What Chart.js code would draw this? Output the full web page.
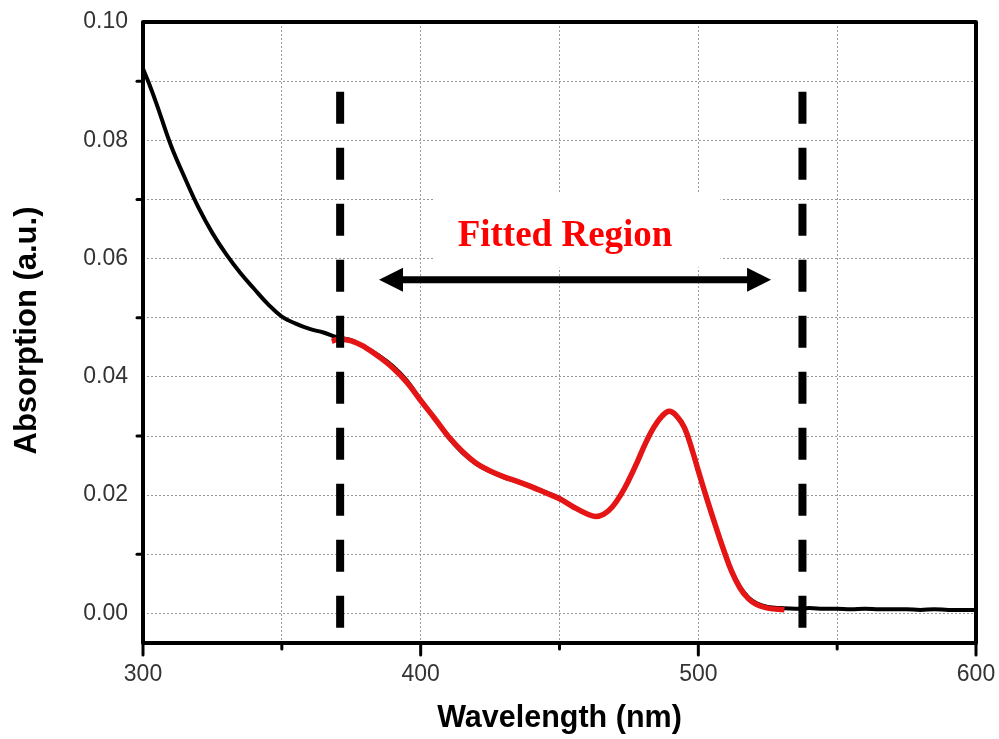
<!DOCTYPE html>
<html>
<head>
<meta charset="utf-8">
<title>Absorption spectrum</title>
<script src="https://cdn.jsdelivr.net/npm/chart.js@4"></script>
<style>
  html, body { margin: 0; padding: 0; background: #fff; }
  canvas { display: block; }
</style>
</head>
<body>
<canvas id="absChart" width="999" height="739"></canvas>
<script>
/* -----------------------------------------------------------
      DATA
------------------------------------------------------------*/
const wavelength = [300, 302, 305, 310, 315, 320, 325, 330, 335, 340, 345, 350, 355, 360, 365,
  370, 375, 380, 385, 390, 395, 400, 405, 410, 415, 420, 425, 430, 435, 440, 445, 450, 455,
  460, 463, 466, 469, 472, 475, 478, 481, 484, 487, 489.5, 492, 495, 498, 500, 503, 506, 509,
  512, 515, 518, 521, 525, 530, 535, 540, 545, 550, 555, 560, 565, 570, 575, 580, 585, 590,
  595, 600];
const absorption = [0.0921, 0.0898, 0.0860, 0.0792, 0.0737, 0.0686, 0.0643, 0.0607, 0.0576,
  0.0549, 0.0523, 0.0502, 0.0490, 0.0481, 0.0475, 0.0467, 0.0462, 0.0450, 0.0436, 0.0418,
  0.0394, 0.0361, 0.0330, 0.0298, 0.0272, 0.0253, 0.0240, 0.0230, 0.0223, 0.0215, 0.0205,
  0.0195, 0.0180, 0.0168, 0.0164, 0.0168, 0.0180, 0.0200, 0.0226, 0.0256, 0.0287, 0.0314,
  0.0333, 0.0341, 0.0334, 0.0313, 0.0272, 0.0240, 0.0194, 0.0150, 0.0109, 0.0072, 0.0045,
  0.0027, 0.0017, 0.0011, 0.0009, 0.0008, 0.0009, 0.0008, 0.0008, 0.0007, 0.0008, 0.0007,
  0.0007, 0.0007, 0.0006, 0.0007, 0.0006, 0.0006, 0.0006];

const fitWavelength = [368, 370, 375, 380, 385, 390, 395, 400, 405, 410, 415, 420, 425, 430,
  435, 440, 445, 450, 455, 460, 463, 466, 469, 472, 475, 478, 481, 484, 487, 489.5, 492, 495,
  498, 500, 503, 506, 509, 512, 515, 518, 521, 525, 531];
const fitAbsorption = [0.0460, 0.0463, 0.0461, 0.0450, 0.0434, 0.0415, 0.0391, 0.0360, 0.0330,
  0.0299, 0.0274, 0.0254, 0.0241, 0.0231, 0.0223, 0.0214, 0.0204, 0.0194, 0.0180, 0.0168,
  0.0164, 0.0168, 0.0180, 0.0200, 0.0226, 0.0256, 0.0288, 0.0315, 0.0334, 0.0342, 0.0335,
  0.0314, 0.0273, 0.0241, 0.0195, 0.0151, 0.0109, 0.0071, 0.0043, 0.0025, 0.0015, 0.0009,
  0.0006];

const xTicks = [300, 400, 500, 600];
const yTicks = [0.00, 0.02, 0.04, 0.06, 0.08, 0.10];

// fitted region bounds (nm) and annotation
const fitStart = 371;
const fitEnd = 537.5;
const regionLabel = "Fitted Region";
const xTitle = "Wavelength (nm)";
const yTitle = "Absorption (a.u.)";

/* -----------------------------------------------------------
      HELPERS
------------------------------------------------------------*/
function toPoints(xs, ys) {
  return xs.map((x, i) => ({ x: x, y: ys[i] }));
}

function isMajor(list, v) {
  return list.some((t) => Math.abs(t - v) < 1e-6);
}

function noPadding(s) {
  s.paddingTop = 0;
  s.paddingBottom = 0;
  s.paddingLeft = 0;
  s.paddingRight = 0;
}

const FONT = '"Liberation Sans", Arial, sans-serif';

/* -----------------------------------------------------------
      DECORATION PLUGIN (frame, ticks, box, arrow, titles)
------------------------------------------------------------*/
const decorPlugin = {
  id: "decor",
  beforeDatasetsDraw(chart) {
    const { ctx, scales } = chart;
    const x = scales.x, y = scales.y;

    // white box behind the label
    const bx0 = x.getPixelForValue(404.8), bx1 = x.getPixelForValue(508);
    const by0 = y.getPixelForValue(0.0712), by1 = y.getPixelForValue(0.0585);
    ctx.save();
    ctx.fillStyle = "#fff";
    ctx.fillRect(bx0, by0, bx1 - bx0, by1 - by0);

    ctx.fillStyle = "#ff0000";
    ctx.font = 'bold 37px "Liberation Serif", "Times New Roman", serif';
    ctx.textAlign = "center";
    ctx.textBaseline = "alphabetic";
    ctx.fillText(regionLabel, x.getPixelForValue(452), y.getPixelForValue(0.0621));
    ctx.restore();
  },
  afterDatasetsDraw(chart) {
    const { ctx, scales } = chart;
    const x = scales.x, y = scales.y;

    // double headed arrow
    const ay = y.getPixelForValue(0.0564);
    const ax0 = x.getPixelForValue(385), ax1 = x.getPixelForValue(526.2);
    const head = 24, half = 12;
    ctx.save();
    ctx.strokeStyle = "#000";
    ctx.fillStyle = "#000";
    ctx.lineWidth = 7;
    ctx.beginPath();
    ctx.moveTo(ax0 + head - 2, ay);
    ctx.lineTo(ax1 - head + 2, ay);
    ctx.stroke();
    ctx.beginPath();
    ctx.moveTo(ax0, ay);
    ctx.lineTo(ax0 + head, ay - half);
    ctx.lineTo(ax0 + head, ay + half);
    ctx.closePath();
    ctx.fill();
    ctx.beginPath();
    ctx.moveTo(ax1, ay);
    ctx.lineTo(ax1 - head, ay - half);
    ctx.lineTo(ax1 - head, ay + half);
    ctx.closePath();
    ctx.fill();
    ctx.restore();
  },
  afterDraw(chart) {
    const { ctx, chartArea: a, scales } = chart;
    const x = scales.x, y = scales.y;
    ctx.save();
    ctx.strokeStyle = "#000";
    ctx.lineWidth = 4;
    ctx.lineJoin = "round";
    ctx.strokeRect(a.left, a.top, a.right - a.left, a.bottom - a.top);

    // x ticks
    ctx.lineWidth = 3;
    ctx.lineCap = "round";
    for (let v = 300; v <= 600; v += 50) {
      const px = x.getPixelForValue(v);
      const len = isMajor(xTicks, v) ? 12 : 6;
      ctx.beginPath();
      ctx.moveTo(px, a.bottom);
      ctx.lineTo(px, a.bottom + len);
      ctx.stroke();
    }
    // y minor ticks
    for (let k = 1; k < 10; k += 2) {
      const py = y.getPixelForValue(k / 100);
      ctx.beginPath();
      ctx.moveTo(a.left, py);
      ctx.lineTo(a.left - 6, py);
      ctx.stroke();
    }

    // axis titles
    ctx.fillStyle = "#000";
    ctx.font = "bold 30.5px " + FONT;
    ctx.textAlign = "center";
    ctx.textBaseline = "middle";
    ctx.fillText(xTitle, (a.left + a.right) / 2, 719);
    ctx.font = "bold 31px " + FONT;
    ctx.translate(27, (a.top + a.bottom) / 2 - 2);
    ctx.rotate(-Math.PI / 2);
    ctx.fillText(yTitle, 0, 0);
    ctx.restore();
  }
};

/* -----------------------------------------------------------
      CHART
------------------------------------------------------------*/
Chart.defaults.font.family = FONT;

const vDash = { borderColor: "#000", borderWidth: 8, borderDash: [32, 24], pointRadius: 0, borderCapStyle: "butt", order: 0 };

new Chart(document.getElementById("absChart").getContext("2d"), {
  type: "line",
  data: {
    datasets: [
      {
        label: "Measured",
        data: toPoints(wavelength, absorption),
        borderColor: "#000",
        borderWidth: 4,
        pointRadius: 0,
        tension: 0.4,
        order: 2,
      },
      {
        label: "Fit",
        data: toPoints(fitWavelength, fitAbsorption),
        borderColor: "#e51515",
        borderWidth: 5.5,
        pointRadius: 0,
        tension: 0.4,
        order: 1,
      },
      Object.assign({ label: "start", data: [{ x: fitStart, y: 0.0882 }, { x: fitStart, y: -0.0027 }] }, vDash),
      Object.assign({ label: "end", data: [{ x: fitEnd, y: 0.0882 }, { x: fitEnd, y: -0.0027 }] }, vDash),
    ],
  },
  options: {
    responsive: false,
    animation: false,
    layout: { padding: { top: 22, right: 23, left: 0, bottom: 0 } },
    plugins: { legend: { display: false }, tooltip: { enabled: false } },
    scales: {
      x: {
        type: "linear",
        min: 300,
        max: 600,
        ticks: {
          stepSize: 50,
          padding: 18,
          color: "#333",
          font: { size: 23 },
          maxRotation: 0,
          autoSkip: false,
          callback: (v) => (isMajor(xTicks, v) ? String(v) : ""),
        },
        grid: { color: "#9a9a9a", lineWidth: 1, drawTicks: false },
        border: { display: false, dash: [2, 2] },
        afterFit: (s) => { s.height = 96; noPadding(s); },
      },
      y: {
        type: "linear",
        min: -0.005,
        max: 0.10,
        ticks: {
          stepSize: 0.01,
          padding: 15,
          color: "#333",
          font: { size: 23 },
          autoSkip: false,
          callback: (v) => (isMajor(yTicks, v) ? v.toFixed(2) : ""),
        },
        grid: {
          color: (c) => (c.tick && c.tick.value < -0.001 ? "rgba(0,0,0,0)" : "#9a9a9a"),
          lineWidth: 1,
          drawTicks: false,
        },
        border: { display: false, dash: [2, 2] },
        afterFit: (s) => { s.width = 143; noPadding(s); },
      },
    },
  },
  plugins: [decorPlugin],
});
</script>
</body>
</html>
